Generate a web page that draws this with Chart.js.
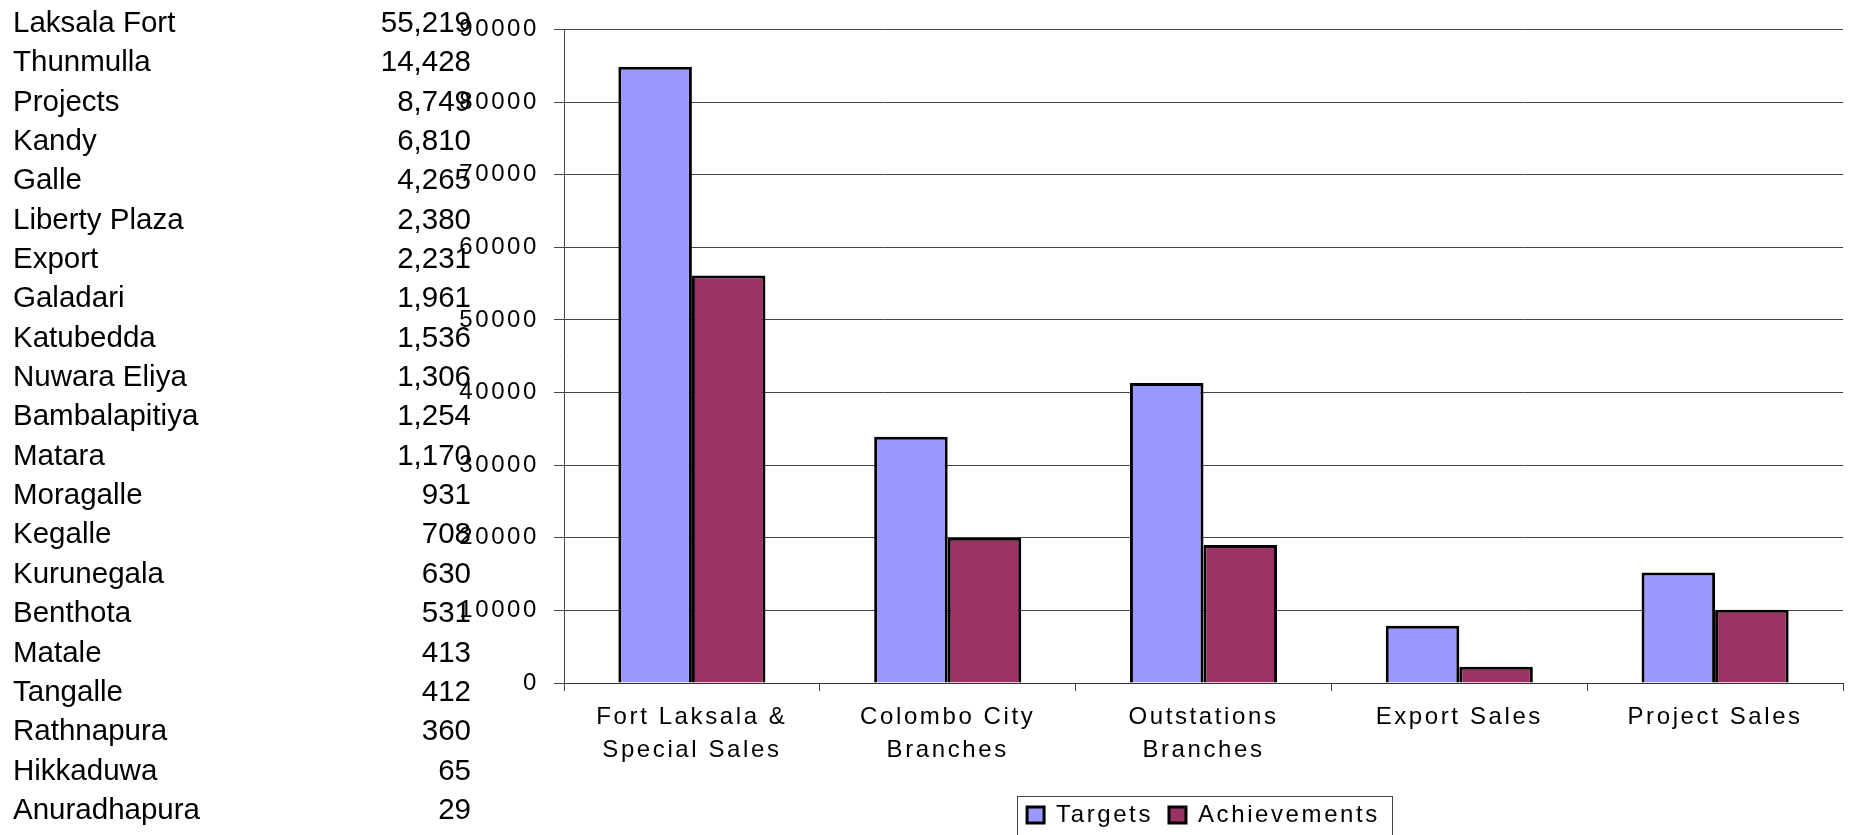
<!DOCTYPE html>
<html>
<head>
<meta charset="utf-8">
<script src="https://cdn.jsdelivr.net/npm/chart.js@4.4.1/dist/chart.umd.min.js"></script>
<style>
  html, body { margin: 0; padding: 0; background: #fff; overflow: hidden; width: 1853px; height: 835px; }
  #wrap { position: relative; width: 1853px; height: 835px; }
  #sales { position: absolute; left: 0; top: 0; }
  #branches {
    position: absolute; left: 0; top: 2px;
    font-family: "Liberation Sans", Arial, sans-serif;
    font-size: 29.5px; line-height: 39.35px; color: #000;
  }
  #branches .row { position: relative; height: 39.35px; width: 471px; }
  #branches .name { position: absolute; left: 13px; white-space: nowrap; }
  #branches .val { position: absolute; right: 0; white-space: nowrap; }
</style>
</head>
<body>
<div id="wrap">
  <canvas id="sales" width="1853" height="837"></canvas>
  <div id="branches"></div>
</div>
<script>
// branch achievements
const branchNames = [
  "Laksala Fort", "Thunmulla", "Projects", "Kandy", "Galle", "Liberty Plaza",
  "Export", "Galadari", "Katubedda", "Nuwara Eliya", "Bambalapitiya", "Matara",
  "Moragalle", "Kegalle", "Kurunegala", "Benthota", "Matale", "Tangalle",
  "Rathnapura", "Hikkaduwa", "Anuradhapura"
];
const branchValues = [
  55219, 14428, 8749, 6810, 4265, 2380, 2231, 1961, 1536, 1306, 1254, 1170,
  931, 708, 630, 531, 413, 412, 360, 65, 29
];

// sales channels
const categories = [
  ["Fort Laksala &", "Special Sales"],
  ["Colombo City", "Branches"],
  ["Outstations", "Branches"],
  "Export Sales",
  "Project Sales"
];
const targets = [84850, 33900, 41300, 7900, 15200];
const achievements = [56100, 20000, 19000, 2231, 10100];

const yMin = 0;
const yMax = 90000;
const yStep = 10000;

// branch table
const table = document.getElementById("branches");
branchNames.forEach((name, i) => {
  const row = document.createElement("div");
  row.className = "row";
  row.innerHTML = '<span class="name"></span><span class="val"></span>';
  row.children[0].textContent = name;
  row.children[1].textContent = branchValues[i].toLocaleString("en-US");
  table.appendChild(row);
});

const FONT = '"Liberation Sans", Arial, sans-serif';

// the chart text is spaced out a little
const spacedText = {
  id: "spacedText",
  beforeLayout(chart) { chart.ctx.letterSpacing = "2.6px"; },
  beforeDraw(chart) { chart.ctx.letterSpacing = "2.6px"; }
};

// thin frame round the legend items
const legendFrame = {
  id: "legendFrame",
  afterDraw(chart) {
    const hb = chart.legend && chart.legend.legendHitBoxes;
    if (!hb || !hb.length) return;
    const first = hb[0];
    const last = hb[hb.length - 1];
    const left = Math.round(first.left - 10);
    const right = Math.round(last.left + last.width + 12);
    const top = Math.round(first.top + first.height / 2 - 19);
    const ctx = chart.ctx;
    ctx.save();
    ctx.strokeStyle = "#444";
    ctx.lineWidth = 1;
    ctx.strokeRect(left + 0.5, top + 0.5, right - left, 80);
    ctx.restore();
  }
};

new Chart(document.getElementById("sales").getContext("2d"), {
  type: "bar",
  data: {
    labels: categories,
    datasets: [
      {
        label: "Targets",
        data: targets,
        backgroundColor: "#9999ff",
        borderColor: "#000",
        borderWidth: 3
      },
      {
        label: "Achievements",
        data: achievements,
        backgroundColor: "#993366",
        borderColor: "#000",
        borderWidth: 3
      }
    ]
  },
  options: {
    responsive: false,
    animation: false,
    events: [],
    datasets: {
      bar: { categoryPercentage: 0.575, barPercentage: 1.0 }
    },
    layout: { padding: { top: 25, right: 10, left: 0, bottom: 0 } },
    plugins: {
      legend: {
        position: "bottom",
        fullSize: false,
        labels: {
          color: "#000",
          font: { family: FONT, size: 24 },
          boxWidth: 17,
          boxHeight: 16,
          padding: 16
        }
      },
      tooltip: { enabled: false }
    },
    scales: {
      x: {
        offset: true,
        afterFit(scale) { scale.height = 104; },
        grid: {
          offset: true,
          drawOnChartArea: false,
          drawTicks: true,
          tickLength: 8,
          color: "#444"
        },
        border: { color: "#333", width: 1 },
        ticks: {
          color: "#000",
          font: { family: FONT, size: 24, lineHeight: 1.375 },
          padding: 10,
          maxRotation: 0,
          autoSkip: false
        }
      },
      y: {
        min: yMin,
        max: yMax,
        afterFit(scale) { scale.width = 564; },
        grid: { color: "#444", lineWidth: 1, tickLength: 10 },
        border: { color: "#444", width: 1 },
        ticks: {
          stepSize: yStep,
          color: "#000",
          font: { family: FONT, size: 24 },
          padding: 15,
          callback: (v) => String(v)
        }
      }
    }
  },
  plugins: [spacedText, legendFrame]
});
</script>
</body>
</html>
